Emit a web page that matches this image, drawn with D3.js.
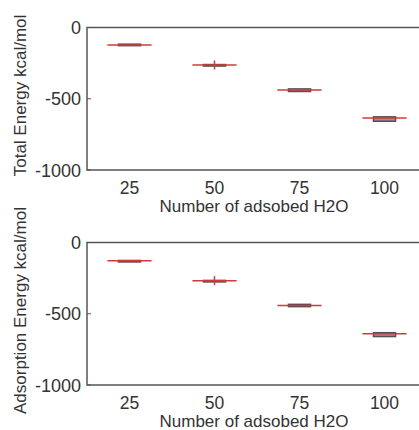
<!DOCTYPE html>
<html>
<head>
<meta charset="utf-8">
<script src="https://cdn.jsdelivr.net/npm/d3@7"></script>
<style>
  body { margin: 0; background: #fff; }
  text { font-family: "Liberation Sans", Arial, sans-serif; fill: #333; }
</style>
</head>
<body>
<div id="chart"></div>
<script>
// categories (number of adsorbed H2O)
var categories = ["25", "50", "75", "100"];
var yTicks = [0, -500, -1000];

// top panel: total energy
var totalMed  = [-123, -263, -439, -635];
var totalLo   = [-125, -266, -449, -658];
var totalHi   = [-117, -260, -431, -627];
var totalOut  = [null, -263, null, null];

// bottom panel: adsorption energy
var adsMed  = [-128, -268, -442, -640];
var adsLo   = [-130, -270, -450, -660];
var adsHi   = [-126, -266, -434, -633];
var adsOut  = [null, -268, null, null];

var W = 419, H = 430;
var svg = d3.select("#chart").append("svg")
    .attr("width", W)
    .attr("height", H);

var x = d3.scaleLinear().domain([0.5, 4.5]).range([87, 427]);

function panel(top, label, med, lo, hi, out) {
  var y = d3.scaleLinear().domain([-1000, 0]).range([top + 142.5, top]);
  var g = svg.append("g");

  categories.forEach(function(c, i) {
    var cx = x(i + 1);
    // narrow dark box
    g.append("rect")
        .attr("x", x(i + 1 - 0.13))
        .attr("y", y(hi[i]))
        .attr("width", x(i + 1 + 0.13) - x(i + 1 - 0.13))
        .attr("height", Math.max(1.5, y(lo[i]) - y(hi[i])))
        .attr("fill", "#9a9398")
        .attr("stroke", "#5a4d58")
        .attr("stroke-width", 1.5);
    // median
    g.append("line")
        .attr("x1", x(i + 1 - 0.26)).attr("x2", x(i + 1 + 0.26))
        .attr("y1", y(med[i])).attr("y2", y(med[i]))
        .attr("stroke", "#d03a3a")
        .attr("stroke-width", 1.5);
    if (out[i] !== null) {
      g.append("line")
          .attr("x1", cx).attr("x2", cx)
          .attr("y1", y(out[i]) - 4.5).attr("y2", y(out[i]) + 4.5)
          .attr("stroke", "#d03a3a")
          .attr("stroke-width", 1.5);
    }
  });

  // frame
  g.append("path")
      .attr("d", "M" + W + "," + y(0) + "H" + x(0.5) + "V" + y(-1000) + "H" + W)
      .attr("fill", "none")
      .attr("stroke", "#555")
      .attr("stroke-width", 1.5);

  // y ticks
  yTicks.forEach(function(t) {
    g.append("line")
        .attr("x1", x(0.5)).attr("x2", x(0.5) + 4)
        .attr("y1", y(t)).attr("y2", y(t))
        .attr("stroke", "#555");
    g.append("text")
        .attr("x", x(0.5) - 6)
        .attr("y", y(t) + 6.5)
        .attr("text-anchor", "end")
        .attr("font-size", 18)
        .text(t);
  });

  // x tick labels
  categories.forEach(function(c, i) {
    g.append("text")
        .attr("x", x(i + 1))
        .attr("y", y(-1000) + 23.5)
        .attr("text-anchor", "middle")
        .attr("font-size", 17.5)
        .text(c);
  });

  g.append("text")
      .attr("x", 254)
      .attr("y", y(-1000) + 41.5)
      .attr("text-anchor", "middle")
      .attr("font-size", 17)
      .text("Number of adsobed H2O");

  g.append("text")
      .attr("transform", "translate(26," + (top + 68) + ") rotate(-90)")
      .attr("text-anchor", "middle")
      .attr("font-size", 17)
      .text(label);
}

panel(27.5, "Total Energy kcal/mol", totalMed, totalLo, totalHi, totalOut);
panel(242.5, "Adsorption Energy kcal/mol", adsMed, adsLo, adsHi, adsOut);
</script>
</body>
</html>
